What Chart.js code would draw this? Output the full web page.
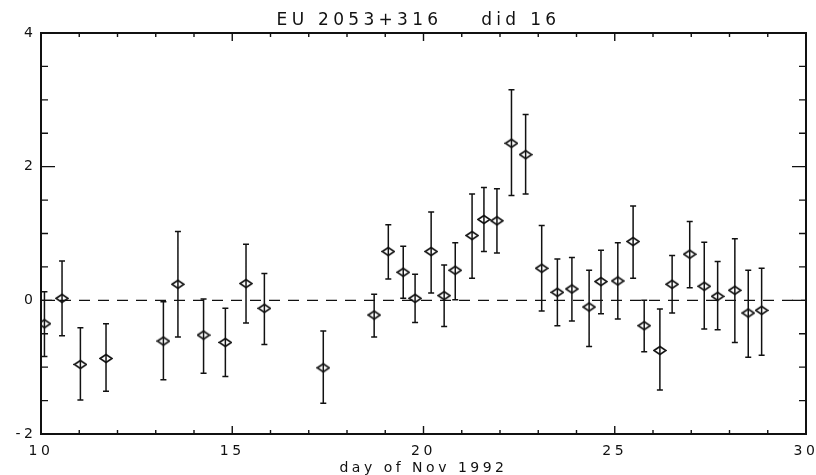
<!DOCTYPE html>
<html>
<head>
<meta charset="utf-8">
<script src="https://cdn.jsdelivr.net/npm/chart.js@4.4.1/dist/chart.umd.min.js"></script>
<style>
    html, body { margin: 0; padding: 0; background: #fff; }
    #wrap { width: 816px; height: 475px; }
</style>
</head>
<body>
<div id="wrap"><canvas id="chart"></canvas></div>
<script>
const title = 'EU 2053+316    did 16'
const xTitle = 'day of Nov 1992'

// day of Nov 1992, measured value, top and bottom of the error bar
const days = [10.09, 10.55, 11.03, 11.70, 13.20, 13.58, 14.25, 14.82, 15.36, 15.84,
    17.38, 18.71, 19.08, 19.47, 19.78, 20.20, 20.54, 20.83, 21.27, 21.58,
    21.92, 22.30, 22.67, 23.09, 23.50, 23.88, 24.33, 24.64, 25.08, 25.48,
    25.77, 26.18, 26.50, 26.96, 27.34, 27.69, 28.14, 28.49, 28.84]
const values = [-0.35, 0.03, -0.96, -0.87, -0.61, 0.24, -0.52, -0.63, 0.25, -0.12,
    -1.01, -0.22, 0.73, 0.42, 0.03, 0.73, 0.07, 0.45, 0.97, 1.21,
    1.19, 2.35, 2.18, 0.48, 0.12, 0.17, -0.10, 0.28, 0.29, 0.88,
    -0.38, -0.75, 0.24, 0.69, 0.21, 0.06, 0.15, -0.19, -0.15]
const upper = [0.13, 0.59, -0.41, -0.35, -0.02, 1.03, 0.02, -0.12, 0.84, 0.40,
    -0.46, 0.09, 1.13, 0.81, 0.39, 1.32, 0.53, 0.86, 1.59, 1.69,
    1.67, 3.15, 2.78, 1.12, 0.62, 0.64, 0.45, 0.75, 0.86, 1.41,
    0.00, -0.13, 0.67, 1.18, 0.87, 0.58, 0.92, 0.45, 0.48]
const lower = [-0.84, -0.53, -1.49, -1.36, -1.19, -0.55, -1.09, -1.14, -0.34, -0.66,
    -1.54, -0.55, 0.32, 0.03, -0.33, 0.11, -0.39, 0.01, 0.33, 0.73,
    0.71, 1.57, 1.59, -0.16, -0.38, -0.31, -0.69, -0.20, -0.28, 0.33,
    -0.77, -1.34, -0.19, 0.19, -0.43, -0.44, -0.63, -0.85, -0.82]

const xMin = 10, xMax = 30, xStep = 5
const yMin = -2, yMax = 4, yStep = 2
const baseline = [{ x: xMin, y: 0 }, { x: xMax, y: 0 }]

const ink = '#111'

// hollow, slightly flattened diamond like the IDL psym=4
function diamond() {
    const c = document.createElement('canvas')
    c.width = 14
    c.height = 11
    const g = c.getContext('2d')
    g.strokeStyle = ink
    g.lineWidth = 1.6
    g.beginPath()
    g.moveTo(1, 5.5); g.lineTo(7, 1.5); g.lineTo(13, 5.5); g.lineTo(7, 9.5)
    g.closePath()
    g.stroke()
    return c
}

const errorBars = {
    id: 'errorBars',
    beforeDatasetsDraw(chart) {
        const { ctx, scales: { x, y } } = chart
        ctx.save()
        ctx.strokeStyle = ink
        ctx.lineWidth = 1.5
        ctx.beginPath()
        days.forEach((d, i) => {
            const px = x.getPixelForValue(d)
            const top = y.getPixelForValue(upper[i])
            const bot = y.getPixelForValue(lower[i])
            ctx.moveTo(px, top); ctx.lineTo(px, bot)
            ctx.moveTo(px - 3, top); ctx.lineTo(px + 3, top)
            ctx.moveTo(px - 3, bot); ctx.lineTo(px + 3, bot)
        })
        ctx.stroke()
        ctx.restore()
    }
}

// boxed axes with inward ticks on all four sides
const frame = {
    id: 'idlFrame',
    beforeDraw(chart) {
        chart.ctx.letterSpacing = '3.5px'
    },
    afterDatasetsDraw(chart) {
        const { ctx, chartArea: a, scales: { x, y } } = chart
        ctx.save()
        ctx.setLineDash([])
        ctx.strokeStyle = ink
        ctx.lineWidth = 2
        ctx.beginPath()
        ctx.rect(a.left, a.top, a.right - a.left, a.bottom - a.top)
        ctx.stroke()

        ctx.lineWidth = 1.4
        ctx.beginPath()
        for (let v = xMin; v <= xMax; v += 1) {
            const px = x.getPixelForValue(v)
            const len = v % xStep === 0 ? 8 : 4
            ctx.moveTo(px, a.bottom); ctx.lineTo(px, a.bottom - len)
            ctx.moveTo(px, a.top); ctx.lineTo(px, a.top + len)
        }
        for (let v = yMin; v <= yMax; v += 0.5) {
            const py = y.getPixelForValue(v)
            const len = v % yStep === 0 ? 14 : 7
            ctx.moveTo(a.left, py); ctx.lineTo(a.left + len, py)
            ctx.moveTo(a.right, py); ctx.lineTo(a.right - len, py)
        }
        ctx.stroke()
        ctx.restore()
    },
    afterDraw(chart) {
        const { ctx, chartArea: a } = chart
        ctx.save()
        ctx.letterSpacing = '4.3px'
        ctx.font = '17px "DejaVu Sans"'
        ctx.fillStyle = ink
        ctx.textAlign = 'center'
        ctx.textBaseline = 'middle'
        ctx.fillText(title, (a.left + a.right) / 2 - 5, 21)
        ctx.restore()
    }
}

new Chart(document.getElementById('chart'), {
    type: 'scatter',
    data: {
        datasets: [
            {
                data: days.map((d, i) => ({ x: d, y: values[i] })),
                pointStyle: diamond(),
                pointRadius: 5,
                order: 1,
            },
            {
                type: 'line',
                data: baseline,
                borderColor: ink,
                borderWidth: 1.1,
                borderDash: [11, 8],
                pointRadius: 0,
                order: 2,
            },
        ],
    },
    options: {
        responsive: true,
        maintainAspectRatio: false,
        animation: false,
        layout: { padding: { top: 33, right: 10, left: 0, bottom: 0 } },
        plugins: { legend: { display: false }, tooltip: { enabled: false } },
        scales: {
            x: {
                type: 'linear',
                min: xMin,
                max: xMax,
                afterFit: scale => {
                    scale.height = 41
                    scale.paddingLeft = 0
                    scale.paddingRight = 0
                },
                ticks: { stepSize: xStep, color: ink, padding: 9, maxRotation: 0, font: { family: 'DejaVu Sans', size: 14 } },
                grid: { display: false, drawTicks: false },
                border: { display: false },
                title: {
                    display: true, text: xTitle, color: ink,
                    padding: { top: 0, bottom: 0 },
                    font: { family: 'DejaVu Sans', size: 14, lineHeight: 1 },
                },
            },
            y: {
                min: yMin,
                max: yMax,
                afterFit: scale => {
                    scale.width = 41
                    scale.paddingTop = 0
                    scale.paddingBottom = 0
                },
                ticks: { stepSize: yStep, color: ink, padding: 4.5, font: { family: 'DejaVu Sans', size: 14 } },
                grid: { display: false, drawTicks: false },
                border: { display: false },
            },
        },
    },
    plugins: [errorBars, frame],
})
</script>
</body>
</html>
